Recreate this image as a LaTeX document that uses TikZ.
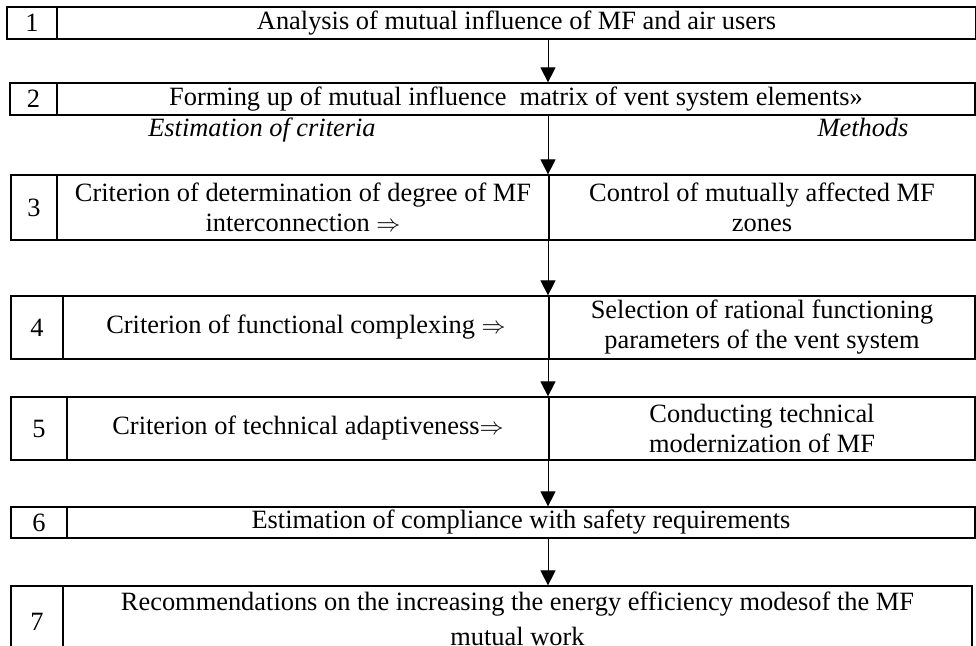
\documentclass[tikz,border=0pt]{standalone}
\usepackage{fontspec}
\setmainfont{Liberation Serif}
\usepackage{tikz}
\usetikzlibrary{arrows.meta,calc}

\tikzset{
  cell/.style={draw, line width=0.6pt, inner sep=0pt, align=center, font=\fontsize{13.2}{15}\selectfont},
  flow/.style={-{Triangle[length=7.5pt,width=7.5pt]}, line width=0.5pt},
  head/.style={anchor=base, font=\fontsize{13.2}{15}\selectfont\itshape}
}

\begin{document}
\begin{tikzpicture}[x=0.5pt,y=-0.5pt]
\useasboundingbox (0,0) rectangle (976,646);
\coordinate (axis) at (548,0);
\node[cell, minimum width=25pt, minimum height=16pt] (n1) at (32,23) {1};
\node[cell, minimum width=459.5pt, minimum height=16pt] (t1) at (516.5,23) {Analysis of mutual influence of MF and air users};
\node[cell, minimum width=23.5pt, minimum height=16pt] (n2) at (33.5,99) {2};
\node[cell, minimum width=459pt, minimum height=16pt] (t2) at (516,99) {Forming up of mutual influence~ matrix of vent system elements»};
\node[head] (crit) at (262,137) {Estimation of criteria};
\node[head] (meth) at (863,137) {Methods};
\node[cell, minimum width=23pt, minimum height=32.5pt] (n3) at (34,207.5) {3};
\node[cell, minimum width=246pt, minimum height=32.5pt] (l3) at (303,207.5) {Criterion of determination of degree of MF\\interconnection $\Rightarrow$};
\node[cell, minimum width=213pt, minimum height=32.5pt] (r3) at (762,207.5) {Control of mutually affected MF\\zones};
\node[cell, minimum width=26pt, minimum height=31.5pt] (n4) at (37,327.5) {4};
\node[cell, minimum width=243pt, minimum height=31.5pt] (l4) at (306,327.5) {Criterion of functional complexing $\Rightarrow$};
\node[cell, minimum width=213pt, minimum height=31.5pt] (r4) at (762,327.5) {Selection of rational functioning\\parameters of the vent system};
\node[cell, minimum width=28pt, minimum height=31.5pt] (n5) at (39,428.5) {5};
\node[cell, minimum width=241pt, minimum height=31.5pt] (l5) at (308,428.5) {Criterion of technical adaptiveness$\Rightarrow$};
\node[cell, minimum width=213pt, minimum height=31.5pt] (r5) at (762,428.5) {Conducting technical\\modernization of MF};
\node[cell, minimum width=28pt, minimum height=15.5pt] (n6) at (39,522.5) {6};
\node[cell, minimum width=454pt, minimum height=15.5pt] (t6) at (521,522.5) {Estimation of compliance with safety requirements};
\node[cell, minimum width=26pt, minimum height=35.5pt] (n7) at (37,621.5) {7};
\node[cell, minimum width=454.5pt, minimum height=35.5pt] (t7) at (517.5,621.5) {Recommendations on the increasing the energy efficiency modesof the MF\\[2.5pt]mutual work\rule[-3pt]{0pt}{3pt}};
\draw[flow] (t1.south -| axis) -- (t2.north -| axis);
\draw[flow] (t2.south -| axis) -- (l3.north -| axis);
\draw[flow] (l3.south -| axis) -- (l4.north -| axis);
\draw[flow] (l4.south -| axis) -- (l5.north -| axis);
\draw[flow] (l5.south -| axis) -- (t6.north -| axis);
\draw[flow] (t6.south -| axis) -- (t7.north -| axis);
\end{tikzpicture}
\end{document}
